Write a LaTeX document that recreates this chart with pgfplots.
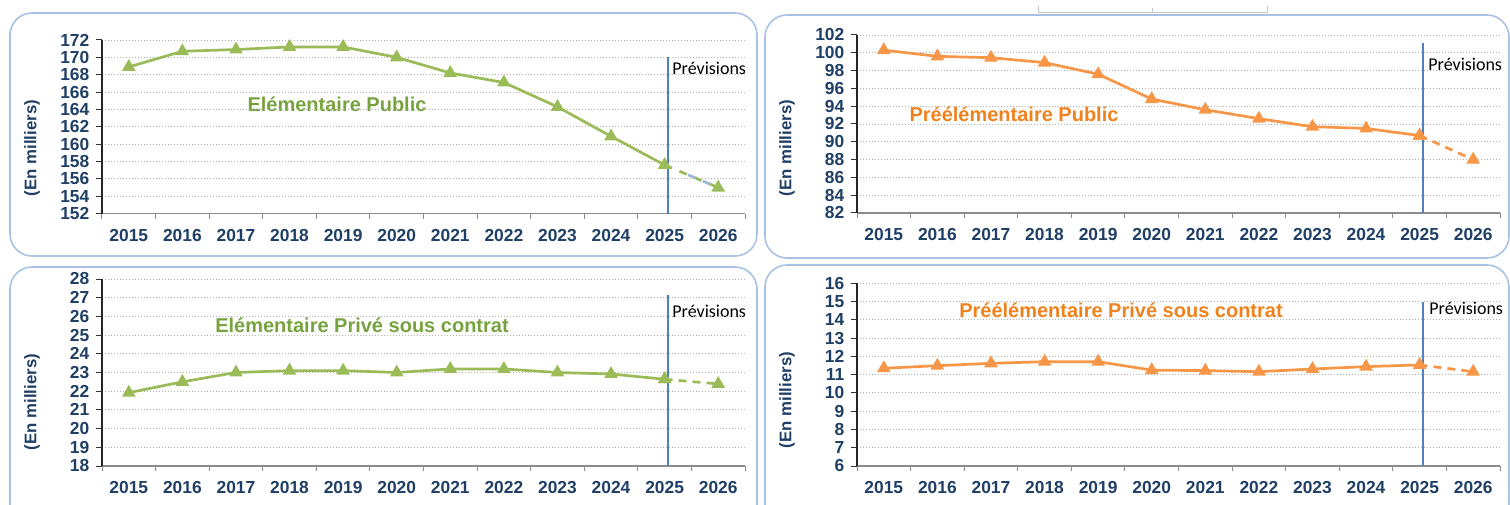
\documentclass[border=0pt]{standalone}
\usepackage{fontspec}
\setmainfont{Liberation Sans}
\newfontfamily\calib{Carlito}
\usepackage{pgfplots}
\pgfplotsset{compat=1.18}
\definecolor{lgreen}{HTML}{9BBB59}
\definecolor{tgreen}{HTML}{77A33F}
\definecolor{lorange}{HTML}{F79646}
\definecolor{torange}{HTML}{F0821E}
\definecolor{tickblue}{HTML}{1F3F66}
\definecolor{boxblue}{HTML}{A9C1E2}
\definecolor{vblue}{HTML}{4F81BD}
\definecolor{dblue}{HTML}{9DB9D9}
\pgfplotsset{
 panel/.style={
  scale only axis, width=321.5pt,
  xmin=-0.5, xmax=11.5,
  xtick={0,1,2,3,4,5,6,7,8,9,10,11},
  xticklabels={2015,2016,2017,2018,2019,2020,2021,2022,2023,2024,2025,2026},
  minor xtick={-0.5,0.5,1.5,2.5,3.5,4.5,5.5,6.5,7.5,8.5,9.5,10.5,11.5},
  axis x line*=bottom, axis y line*=left,
  tick align=outside,
  major x tick style={draw=none},
  minor tick length=2.6pt,
  major tick length=3.2pt,
  minor x tick style={draw=gray!90, line width=0.5pt},
  y tick style={draw=black!80, line width=0.5pt},
  x axis line style={draw=gray!90, line width=0.6pt},
  y axis line style={draw=black!85, line width=0.7pt},
  ymajorgrids,
  grid style={draw=gray!60, line width=0.45pt, dash pattern=on 0.6pt off 0.9pt},
  /pgf/number format/assume math mode=true,
  ticklabel style={font=\bfseries\fontsize{8.7}{9}\selectfont, text=tickblue},
  yticklabel style={xshift=0.4pt},
  xticklabel style={yshift=-1.0pt},
  clip=false,
 },
 sgreen/.style={color=lgreen, line width=1.35pt, mark=triangle*, mark size=2.6pt, mark options={solid}},
 sorange/.style={color=lorange, line width=1.35pt, mark=triangle*, mark size=2.6pt, mark options={solid}},
}
\begin{document}
\begin{tikzpicture}
\begin{scope}[x=0.5pt,y=-0.5pt,yshift=252pt]
\path[use as bounding box] (0,0) rectangle (1510,504);
% panel frames
\draw[boxblue, line width=0.8pt, rounded corners=11pt] (10,13) rectangle (757,256);
\draw[boxblue, line width=0.8pt, rounded corners=11pt] (765,15) rectangle (1509,258);
\draw[boxblue, line width=0.8pt, rounded corners=11pt] (10,267) rectangle (757,530);
\draw[boxblue, line width=0.8pt, rounded corners=11pt] (765,265) rectangle (1509,530);
% artifact at top
\draw[gray!45, line width=0.5pt] (1038,6) -- (1038,13) -- (1267,13) -- (1267,6);
\draw[gray!45, line width=0.5pt] (1152,8) -- (1152,13);
% y labels
\node[rotate=90, font=\bfseries\fontsize{8.4}{9}\selectfont, text=tickblue] at (32,148) {(En milliers)};
\node[rotate=90, font=\bfseries\fontsize{8.4}{9}\selectfont, text=tickblue] at (787,148) {(En milliers)};
\node[rotate=90, font=\bfseries\fontsize{8.4}{9}\selectfont, text=tickblue] at (32,402) {(En milliers)};
\node[rotate=90, font=\bfseries\fontsize{8.4}{9}\selectfont, text=tickblue] at (787,400) {(En milliers)};
% titles
\node[font=\bfseries\fontsize{10}{12}\selectfont, text=tgreen] at (337,104) {Elémentaire Public};
\node[font=\bfseries\fontsize{10}{12}\selectfont, text=torange] at (1014,114) {Préélémentaire Public};
\node[font=\bfseries\fontsize{10}{12}\selectfont, text=tgreen] at (362,325) {Elémentaire Privé sous contrat};
\node[font=\bfseries\fontsize{10}{12}\selectfont, text=torange] at (1121,310) {Préélémentaire Privé sous contrat};
% Previsions
\node[font=\calib\fontsize{9}{10}\selectfont, anchor=west, inner sep=0pt] at (672,68) {Prévisions};
\node[font=\calib\fontsize{9}{10}\selectfont, anchor=west, inner sep=0pt] at (1428,64) {Prévisions};
\node[font=\calib\fontsize{9}{10}\selectfont, anchor=west, inner sep=0pt] at (672,311) {Prévisions};
\node[font=\calib\fontsize{9}{10}\selectfont, anchor=west, inner sep=0pt] at (1429,308) {Prévisions};
\end{scope}

% Top-left: Elementaire Public
\begin{axis}[panel, at={(51pt,145.2pt)}, anchor=south west, height=86.8pt,
  ymin=152, ymax=172, ytick={152,154,...,172}]
\addplot[vblue, line width=0.8pt, forget plot] coordinates {(10.065,152) (10.065,170.04)};
\addplot[sgreen] coordinates {(0,168.9) (1,170.7) (2,170.9) (3,171.2) (4,171.2) (5,170.0) (6,168.2) (7,167.1) (8,164.3) (9,160.9) (10,157.6)};
\addplot[color=lgreen, line width=1.35pt, dash pattern=on 4pt off 4pt] coordinates {(10,157.6) (11,155.0)};
\addplot[color=dblue, line width=1.35pt, dash pattern=on 4pt off 4pt, dash phase=4pt] coordinates {(10.3,156.82) (11,155.0)};
\addplot[sgreen, only marks] coordinates {(11,155.0)};
\end{axis}

% Top-right: Preelementaire Public
\begin{axis}[panel, at={(428.5pt,145.5pt)}, anchor=south west, height=89pt,
  ymin=82, ymax=102, ytick={82,84,...,102}]
\addplot[vblue, line width=0.8pt, forget plot] coordinates {(10.065,82) (10.065,101.1)};
\addplot[sorange] coordinates {(0,100.3) (1,99.6) (2,99.45) (3,98.9) (4,97.6) (5,94.8) (6,93.6) (7,92.6) (8,91.7) (9,91.5) (10,90.7)};
\addplot[sorange, dash pattern=on 4pt off 3pt] coordinates {(10,90.7) (11,88.0)};
\end{axis}

% Bottom-left: Elementaire Prive
\begin{axis}[panel, at={(51pt,19pt)}, anchor=south west, height=93.5pt,
  ymin=18, ymax=28, ytick={18,19,...,28}]
\addplot[vblue, line width=0.8pt, forget plot] coordinates {(10.065,18) (10.065,27.14)};
\addplot[sgreen] coordinates {(0,21.92) (1,22.5) (2,23.0) (3,23.1) (4,23.1) (5,23.0) (6,23.19) (7,23.19) (8,23.0) (9,22.92) (10,22.64)};
\addplot[sgreen, dash pattern=on 4pt off 3pt] coordinates {(10,22.64) (11,22.39)};
\end{axis}

% Bottom-right: Preelementaire Prive
\begin{axis}[panel, at={(428.5pt,19pt)}, anchor=south west, height=91.35pt,
  ymin=6, ymax=16, ytick={6,7,...,16}]
\addplot[vblue, line width=0.8pt, forget plot] coordinates {(10.065,6) (10.065,14.98)};
\addplot[sorange] coordinates {(0,11.35) (1,11.49) (2,11.62) (3,11.71) (4,11.71) (5,11.25) (6,11.22) (7,11.16) (8,11.31) (9,11.44) (10,11.53)};
\addplot[sorange, dash pattern=on 4pt off 3pt] coordinates {(10,11.53) (11,11.16)};
\end{axis}
\end{tikzpicture}
\end{document}
